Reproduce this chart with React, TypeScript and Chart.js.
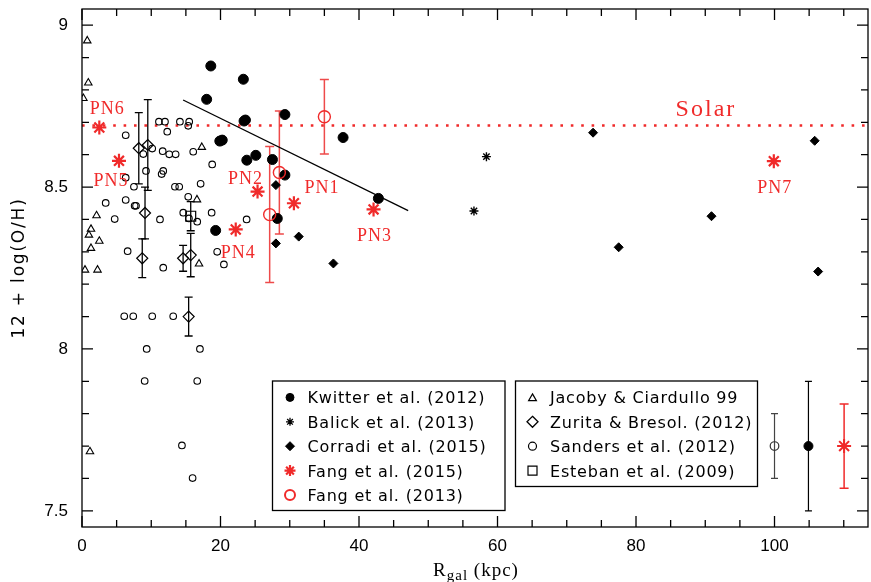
import React, { useEffect, useRef } from "react";
import { Chart, registerables } from "chart.js";

Chart.register(...registerables);

// ---------- axis ranges & ticks ----------
const X_MIN = 0;
const X_MAX = 113.5;
const Y_MIN = 7.45;
const Y_MAX = 9.05;
const X_MAJOR = 20;
const X_MINOR = 5;
const Y_MAJOR = 0.5;
const Y_MINOR = 0.1;
const SOLAR = 8.69;

// ---------- data ----------
const KWITTER_X = [18.6, 23.3, 18.0, 23.4, 23.6, 29.3, 19.9, 20.25, 23.8, 25.1, 27.5, 29.3, 28.2, 19.3, 37.7, 42.8];
const KWITTER_Y = [8.874, 8.833, 8.771, 8.704, 8.707, 8.724, 8.642, 8.645, 8.583, 8.598, 8.585, 8.537, 8.403, 8.366, 8.653, 8.465];

const BALICK_X = [58.4, 56.6];
const BALICK_Y = [8.594, 8.426];

const CORRADI_X = [28.0, 28.0, 31.3, 36.3, 73.8, 77.5, 90.9, 105.8, 106.3];
const CORRADI_Y = [8.506, 8.326, 8.347, 8.264, 8.668, 8.314, 8.41, 8.643, 8.239];

const FANG15_LABELS = ["PN1", "PN2", "PN3", "PN4", "PN5", "PN6", "PN7"];
const FANG15_X = [30.6, 25.35, 42.1, 22.2, 5.34, 2.5, 99.9];
const FANG15_Y = [8.45, 8.486, 8.431, 8.369, 8.581, 8.684, 8.58];

const FANG13_X = [35.0, 28.5, 27.1];
const FANG13_Y = [8.717, 8.545, 8.415];
const FANG13_ERR = [0.115, 0.19, 0.21];

const JACOBY_X = [0.76, 0.91, 0.2, 2.1, 1.3, 1.0, 2.5, 1.3, 0.43, 2.24, 17.3, 16.6, 16.9, 1.15];
const JACOBY_Y = [8.952, 8.822, 8.774, 8.412, 8.37, 8.352, 8.333, 8.311, 8.244, 8.244, 8.623, 8.461, 8.263, 7.683];

const ZURITA_X = [8.2, 9.5, 9.1, 8.7, 14.6, 15.7, 15.4];
const ZURITA_Y = [8.62, 8.63, 8.42, 8.28, 8.28, 8.29, 8.10];
const ZURITA_ERR = [0.11, 0.14, 0.08, 0.06, 0.04, 0.067, 0.06];

const SANDERS_X = [
  3.42, 4.72, 6.31, 6.31, 6.31, 6.59, 7.5, 7.6, 7.8, 8.85, 9.24, 9.34, 9.05, 6.1, 7.4, 10.14, 13.17,
  10.14, 11.11, 11.98, 14.14, 15.48, 15.34, 12.31, 11.65, 12.6, 13.52, 16.06, 18.8, 11.73, 11.5,
  13.42, 14.04, 17.13, 15.34, 14.62, 15.44, 16.64, 18.72, 11.26, 11.73, 19.52, 20.49, 23.77,
  17.03, 16.64, 14.43, 15.97,
];
const SANDERS_Y = [
  8.451, 8.401, 8.66, 8.529, 8.46, 8.302, 8.501, 8.442, 8.442, 8.602, 8.55, 8.0, 7.901, 8.101, 8.101, 8.101, 8.101,
  8.619, 8.702, 8.702, 8.702, 8.702, 8.689, 8.671, 8.611, 8.601, 8.601, 8.609, 8.57, 8.55, 8.54,
  8.501, 8.501, 8.51, 8.47, 8.421, 8.403, 8.393, 8.421, 8.4, 8.251, 8.3, 8.261, 8.4,
  8.0, 7.901, 7.702, 7.601,
];

const ESTEBAN_X = [15.7];
const ESTEBAN_Y = [8.41];
const ESTEBAN_ERR = [0.045];

// representative error bars (Sanders, Kwitter, Fang 2015)
const REP_X = [100, 104.9, 110.05];
const REP_Y = [7.7, 7.7, 7.7];
const REP_ERR = [0.1, 0.2, 0.13];

const FIT_X = [14.6, 47.1];
const FIT_Y = [8.769, 8.427];

const LEGEND_LEFT = [
  "Kwitter et al. (2012)",
  "Balick et al. (2013)",
  "Corradi et al. (2015)",
  "Fang et al. (2015)",
  "Fang et al. (2013)",
];
const LEGEND_RIGHT = [
  "Jacoby & Ciardullo 99",
  "Zurita & Bresol. (2012)",
  "Sanders et al. (2012)",
  "Esteban et al. (2009)",
];

const RED = "#f02a2a";
const RED_ERR = "#ee4a4a";

const pts = (xs: number[], ys: number[]) => xs.map((x, i) => ({ x, y: ys[i] }));

// ---------- marker drawing for the legend ----------
function marker(
  ctx: CanvasRenderingContext2D,
  kind: string,
  x: number,
  y: number,
  r: number,
  color: string,
  filled: boolean,
  lw: number
) {
  ctx.save();
  ctx.strokeStyle = color;
  ctx.fillStyle = color;
  ctx.lineWidth = lw;
  ctx.beginPath();
  if (kind === "circle") {
    ctx.arc(x, y, r, 0, Math.PI * 2);
  } else if (kind === "diamond") {
    ctx.moveTo(x, y - r);
    ctx.lineTo(x + r, y);
    ctx.lineTo(x, y + r);
    ctx.lineTo(x - r, y);
    ctx.closePath();
  } else if (kind === "triangle") {
    ctx.moveTo(x, y - r);
    ctx.lineTo(x + r * 0.866, y + r * 0.5);
    ctx.lineTo(x - r * 0.866, y + r * 0.5);
    ctx.closePath();
  } else if (kind === "square") {
    ctx.rect(x - r, y - r, 2 * r, 2 * r);
  } else if (kind === "star") {
    for (let k = 0; k < 4; k++) {
      const a = (k * Math.PI) / 4;
      ctx.moveTo(x - r * Math.cos(a), y - r * Math.sin(a));
      ctx.lineTo(x + r * Math.cos(a), y + r * Math.sin(a));
    }
  }
  if (filled && kind !== "star") ctx.fill();
  ctx.stroke();
  ctx.restore();
}

const decorPlugin = {
  id: "decor",
  beforeDatasetsDraw(chart: any) {
    const ctx: CanvasRenderingContext2D = chart.ctx;
    const ys = chart.scales.y;
    chart.data.datasets.forEach((ds: any, i: number) => {
      if (!ds.errors) return;
      const meta = chart.getDatasetMeta(i);
      ctx.save();
      ctx.strokeStyle = ds.errColor || "#000";
      ctx.lineWidth = ds.errWidth || 1.3;
      meta.data.forEach((el: any, j: number) => {
        const e = ds.errors[j];
        if (!e) return;
        const v = ds.data[j].y;
        const x = el.x;
        const y1 = ys.getPixelForValue(v + e);
        const y2 = ys.getPixelForValue(v - e);
        const c = ds.errCap || 4;
        ctx.beginPath();
        ctx.moveTo(x, y1);
        ctx.lineTo(x, y2);
        ctx.moveTo(x - c, y1);
        ctx.lineTo(x + c, y1);
        ctx.moveTo(x - c, y2);
        ctx.lineTo(x + c, y2);
        ctx.stroke();
      });
      ctx.restore();
    });
  },
  afterDatasetsDraw(chart: any) {
    const ctx: CanvasRenderingContext2D = chart.ctx;
    const { left, right, top, bottom } = chart.chartArea;
    const xs = chart.scales.x;
    const ys = chart.scales.y;

    // frame
    ctx.save();
    ctx.strokeStyle = "#000";
    ctx.lineWidth = 1.3;
    ctx.strokeRect(left, top, right - left, bottom - top);

    // inward ticks on all sides
    ctx.beginPath();
    for (let v = X_MIN; v <= X_MAX + 1e-9; v += X_MINOR) {
      const isMajor = Math.abs(v / X_MAJOR - Math.round(v / X_MAJOR)) < 1e-6;
      const L = isMajor ? 11 : 7;
      const px = xs.getPixelForValue(v);
      ctx.moveTo(px, bottom);
      ctx.lineTo(px, bottom - L);
      ctx.moveTo(px, top);
      ctx.lineTo(px, top + L);
    }
    const n0 = Math.ceil(Y_MIN / Y_MINOR - 1e-6);
    for (let k = n0; k * Y_MINOR <= Y_MAX + 1e-9; k++) {
      const v = k * Y_MINOR;
      const isMajor = Math.abs(v / Y_MAJOR - Math.round(v / Y_MAJOR)) < 1e-6;
      const L = isMajor ? 11 : 7;
      const py = ys.getPixelForValue(v);
      ctx.moveTo(left, py);
      ctx.lineTo(left + L, py);
      ctx.moveTo(right, py);
      ctx.lineTo(right - L, py);
    }
    ctx.stroke();
    ctx.restore();

    // PN labels
    const offsets: [number, number][] = [
      [28, -16],
      [-12, -14],
      [1, 26],
      [2.5, 23],
      [-8, 19],
      [8, -19],
      [1, 26],
    ];
    ctx.save();
    ctx.fillStyle = RED;
    ctx.font = '18px "Liberation Serif"';
    (ctx as any).letterSpacing = "1px";
    ctx.textAlign = "center";
    ctx.textBaseline = "alphabetic";
    FANG15_LABELS.forEach((lab, i) => {
      const px = xs.getPixelForValue(FANG15_X[i]) + offsets[i][0];
      const py = ys.getPixelForValue(FANG15_Y[i]) + offsets[i][1];
      ctx.fillText(lab, px, py + 6);
    });
    // Solar label
    ctx.font = '24px "Liberation Serif"';
    (ctx as any).letterSpacing = "2px";
    ctx.fillText("Solar", xs.getPixelForValue(90.1), ys.getPixelForValue(SOLAR) - 10);
    ctx.restore();

    // legends
    ctx.save();
    ctx.strokeStyle = "#000";
    ctx.lineWidth = 1.3;
    ctx.strokeRect(272.5, 381, 232.5, 129.5);
    ctx.strokeRect(515.5, 381, 242, 105.5);
    ctx.fillStyle = "#000";
    ctx.font = '16px "DejaVu Sans"';
    (ctx as any).letterSpacing = "0.8px";
    ctx.textAlign = "left";
    ctx.textBaseline = "alphabetic";
    const rowY = (i: number) => 397.4 + i * 24.4;
    LEGEND_LEFT.forEach((t, i) => ctx.fillText(t, 307.5, rowY(i) + 6));
    LEGEND_RIGHT.forEach((t, i) => ctx.fillText(t, 550, rowY(i) + 6));
    marker(ctx, "circle", 290, rowY(0), 4, "#000", true, 1);
    marker(ctx, "star", 290, rowY(1), 4, "#000", false, 1.3);
    marker(ctx, "diamond", 290, rowY(2), 4.5, "#000", true, 1);
    marker(ctx, "star", 290, rowY(3), 5.5, RED, false, 2.2);
    marker(ctx, "circle", 290, rowY(4), 5, RED, false, 2);
    marker(ctx, "triangle", 532.5, rowY(0) + 1, 4.5, "#000", false, 1.2);
    marker(ctx, "diamond", 532.5, rowY(1), 5.5, "#000", false, 1.3);
    marker(ctx, "circle", 532.5, rowY(2), 4, "#000", false, 1.2);
    marker(ctx, "square", 532.5, rowY(3), 4.5, "#000", false, 1.2);
    ctx.restore();

    // axis titles
    ctx.save();
    ctx.fillStyle = "#000";
    ctx.translate(19.5, (top + bottom) / 2);
    ctx.rotate(-Math.PI / 2);
    ctx.font = '17px "DejaVu Sans"';
    (ctx as any).letterSpacing = "1.8px";
    ctx.textAlign = "center";
    ctx.textBaseline = "middle";
    ctx.fillText("12 + log(O/H)", 0, 0);
    ctx.restore();

    ctx.save();
    ctx.fillStyle = "#000";
    ctx.textAlign = "left";
    ctx.textBaseline = "alphabetic";
    (ctx as any).letterSpacing = "1px";
    const mainF = '19px "Liberation Serif"';
    const subF = '15px "Liberation Serif"';
    ctx.font = mainF;
    const wR = ctx.measureText("R").width;
    const wK = ctx.measureText(" (kpc)").width;
    ctx.font = subF;
    const wG = ctx.measureText("gal").width;
    const total = wR + wG + wK;
    let sx = (left + right) / 2 + 1 - total / 2;
    const base = 575.5;
    ctx.font = mainF;
    ctx.fillText("R", sx, base);
    sx += wR;
    ctx.font = subF;
    ctx.fillText("gal", sx, base + 4);
    sx += wG;
    ctx.font = mainF;
    ctx.fillText(" (kpc)", sx, base);
    ctx.restore();
  },
};

const zeroPad = (s: any) => {
  s.paddingTop = 0;
  s.paddingBottom = 0;
  s.paddingLeft = 0;
  s.paddingRight = 0;
};

export default function App() {
  const ref = useRef<HTMLCanvasElement | null>(null);
  useEffect(() => {
    if (!ref.current) return;
    const chart = new Chart(ref.current, {
      type: "scatter",
      data: {
        datasets: [
          {
            label: "Fang 2015",
            data: pts(FANG15_X, FANG15_Y),
            pointStyle: "star",
            pointRadius: 7,
            borderColor: RED,
            backgroundColor: RED,
            borderWidth: 2.2,
          } as any,
          {
            label: "Fang 2013",
            data: pts(FANG13_X, FANG13_Y),
            pointStyle: "circle",
            pointRadius: 6,
            borderColor: RED,
            backgroundColor: "rgba(0,0,0,0)",
            borderWidth: 1.4,
            errors: FANG13_ERR,
            errColor: RED_ERR,
            errCap: 4.5,
            errWidth: 1.5,
          },
          {
            label: "Rep Fang",
            data: [{ x: REP_X[2], y: REP_Y[2] }],
            pointStyle: "star",
            pointRadius: 7,
            borderColor: RED,
            backgroundColor: RED,
            borderWidth: 2,
            errors: [REP_ERR[2]],
            errColor: RED,
            errCap: 4.5,
            errWidth: 1.5,
          },
          {
            label: "Rep Kwitter",
            data: [{ x: REP_X[1], y: REP_Y[1] }],
            pointStyle: "circle",
            pointRadius: 4.5,
            borderColor: "#000",
            backgroundColor: "#000",
            borderWidth: 1,
            errors: [REP_ERR[1]],
            errColor: "#000",
            errCap: 3.5,
            errWidth: 1.2,
          },
          {
            label: "Rep Sanders",
            data: [{ x: REP_X[0], y: REP_Y[0] }],
            pointStyle: "circle",
            pointRadius: 4.3,
            borderColor: "#333",
            backgroundColor: "rgba(0,0,0,0)",
            borderWidth: 1.2,
            errors: [REP_ERR[0]],
            errColor: "#444",
            errCap: 3.5,
            errWidth: 1.2,
          },
          {
            label: "Kwitter",
            data: pts(KWITTER_X, KWITTER_Y),
            pointStyle: "circle",
            pointRadius: 5,
            borderColor: "#000",
            backgroundColor: "#000",
            borderWidth: 1,
          },
          {
            label: "Corradi",
            data: pts(CORRADI_X, CORRADI_Y),
            pointStyle: "rectRot",
            pointRadius: 4.5,
            borderColor: "#000",
            backgroundColor: "#000",
            borderWidth: 1,
          },
          {
            label: "Balick",
            data: pts(BALICK_X, BALICK_Y),
            pointStyle: "star",
            pointRadius: 4.5,
            borderColor: "#000",
            backgroundColor: "#000",
            borderWidth: 1.4,
          },
          {
            label: "Zurita",
            data: pts(ZURITA_X, ZURITA_Y),
            pointStyle: "rectRot",
            pointRadius: 5.5,
            borderColor: "#000",
            backgroundColor: "rgba(0,0,0,0)",
            borderWidth: 1.2,
            errors: ZURITA_ERR,
            errColor: "#000",
            errCap: 4,
            errWidth: 1.3,
          },
          {
            label: "Esteban",
            data: pts(ESTEBAN_X, ESTEBAN_Y),
            pointStyle: "rect",
            pointRadius: 7,
            borderColor: "#000",
            backgroundColor: "rgba(0,0,0,0)",
            borderWidth: 1.2,
            errors: ESTEBAN_ERR,
            errColor: "#000",
            errCap: 4,
            errWidth: 1.3,
          },
          {
            label: "Sanders",
            data: pts(SANDERS_X, SANDERS_Y),
            pointStyle: "circle",
            pointRadius: 3.3,
            borderColor: "#000",
            backgroundColor: "rgba(0,0,0,0)",
            borderWidth: 1.1,
          },
          {
            label: "Jacoby",
            data: pts(JACOBY_X, JACOBY_Y),
            pointStyle: "triangle",
            pointRadius: 4.3,
            borderColor: "#000",
            backgroundColor: "rgba(0,0,0,0)",
            borderWidth: 1.1,
          },
          {
            label: "Fit",
            data: pts(FIT_X, FIT_Y),
            showLine: true,
            pointRadius: 0,
            borderColor: "#000",
            borderWidth: 1.3,
          },
          {
            label: "Solar",
            data: [
              { x: X_MIN, y: SOLAR },
              { x: X_MAX, y: SOLAR },
            ],
            showLine: true,
            pointRadius: 0,
            borderColor: RED,
            borderWidth: 2.6,
            borderDash: [2.6, 7.8],
          },
        ] as any,
      },
      options: {
        animation: false,
        responsive: false,
        events: [],
        layout: { autoPadding: false, padding: { top: 9, right: 3, left: 0, bottom: 0 } },
        plugins: {
          legend: { display: false },
          tooltip: { enabled: false },
          title: { display: false },
        },
        scales: {
          x: {
            type: "linear",
            min: X_MIN,
            max: X_MAX,
            grid: { display: false, drawTicks: false },
            border: { display: false },
            afterFit: (s: any) => {
              s.height = 55;
              zeroPad(s);
            },
            ticks: {
              stepSize: X_MAJOR,
              includeBounds: false,
              padding: 9,
              color: "#000",
              font: { family: "Liberation Sans", size: 17 },
              callback: (v: any) => String(v),
              maxRotation: 0,
            },
          },
          y: {
            type: "linear",
            min: Y_MIN,
            max: Y_MAX,
            grid: { display: false, drawTicks: false },
            border: { display: false },
            afterFit: (s: any) => {
              s.width = 82;
              zeroPad(s);
            },
            ticks: {
              stepSize: Y_MAJOR,
              includeBounds: false,
              padding: 14,
              color: "#000",
              font: { family: "Liberation Sans", size: 17 },
              callback: (v: any) => String(Math.round(v * 10) / 10),
            },
          },
        },
      } as any,
      plugins: [decorPlugin],
    });
    return () => chart.destroy();
  }, []);

  return (
    <div style={{ position: "fixed", left: 0, top: 0, width: 871, height: 582, background: "#fff" }}>
      <canvas ref={ref} width={871} height={582} style={{ width: 871, height: 582 }} />
    </div>
  );
}
